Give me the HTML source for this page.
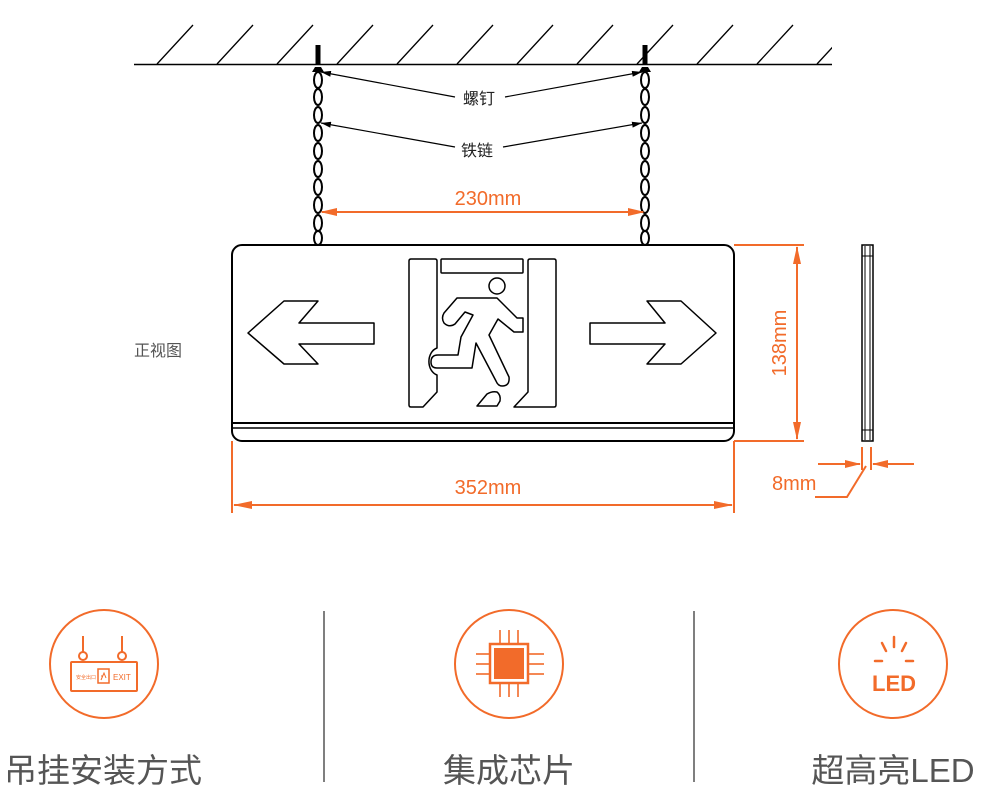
<!DOCTYPE html>
<html><head><meta charset="utf-8"><style>
html,body{margin:0;padding:0;background:#fff;width:982px;height:802px;overflow:hidden}
svg{display:block}
text{font-family:"Liberation Sans","Noto Sans CJK SC",sans-serif}
</style></head><body>
<svg width="982" height="802" viewBox="0 0 982 802" xmlns="http://www.w3.org/2000/svg">
<defs>
<marker id="ak" markerWidth="10" markerHeight="6" refX="10" refY="3" orient="auto" markerUnits="userSpaceOnUse"><path d="M0,0 L10,3 L0,6 Z" fill="#000"/></marker>
<clipPath id="cc"><rect x="134" y="0" width="698" height="70"/></clipPath>
</defs>
<line x1="134" y1="64.5" x2="832" y2="64.5" stroke="#000" stroke-width="1.5"/>
<g clip-path="url(#cc)" stroke="#000" stroke-width="1.3">
<line x1="157" y1="64" x2="193" y2="25"/><line x1="217" y1="64" x2="253" y2="25"/><line x1="277" y1="64" x2="313" y2="25"/><line x1="337" y1="64" x2="373" y2="25"/><line x1="397" y1="64" x2="433" y2="25"/><line x1="457" y1="64" x2="493" y2="25"/><line x1="517" y1="64" x2="553" y2="25"/><line x1="577" y1="64" x2="613" y2="25"/><line x1="637" y1="64" x2="673" y2="25"/><line x1="697" y1="64" x2="733" y2="25"/><line x1="757" y1="64" x2="793" y2="25"/><line x1="817" y1="64" x2="853" y2="25"/>
</g>
<rect x="315.5" y="45" width="5" height="20" fill="#000"/>
<rect x="642.5" y="45" width="5" height="20" fill="#000"/>
<path d="M312,72 L324,72 L321,67 L315,67 Z" fill="#000"/>
<path d="M639,72 L651,72 L648,67 L642,67 Z" fill="#000"/>
<g fill="none" stroke="#000" stroke-width="2">
<ellipse cx="318" cy="80" rx="4" ry="8"/><ellipse cx="318" cy="97" rx="4" ry="8"/><ellipse cx="318" cy="115" rx="4" ry="8"/><ellipse cx="318" cy="133" rx="4" ry="8"/><ellipse cx="318" cy="151" rx="4" ry="8"/><ellipse cx="318" cy="169" rx="4" ry="8"/><ellipse cx="318" cy="187" rx="4" ry="8"/><ellipse cx="318" cy="205" rx="4" ry="8"/><ellipse cx="318" cy="223" rx="4" ry="8"/><ellipse cx="318" cy="238" rx="4" ry="7"/>
<ellipse cx="645" cy="80" rx="4" ry="8"/><ellipse cx="645" cy="97" rx="4" ry="8"/><ellipse cx="645" cy="115" rx="4" ry="8"/><ellipse cx="645" cy="133" rx="4" ry="8"/><ellipse cx="645" cy="151" rx="4" ry="8"/><ellipse cx="645" cy="169" rx="4" ry="8"/><ellipse cx="645" cy="187" rx="4" ry="8"/><ellipse cx="645" cy="205" rx="4" ry="8"/><ellipse cx="645" cy="223" rx="4" ry="8"/><ellipse cx="645" cy="238" rx="4" ry="7"/>
</g>
<g stroke="#000" stroke-width="1.2">
<line x1="455" y1="97" x2="321" y2="72" marker-end="url(#ak)"/>
<line x1="505" y1="97" x2="642" y2="72" marker-end="url(#ak)"/>
<line x1="455" y1="147" x2="321" y2="123" marker-end="url(#ak)"/>
<line x1="503" y1="147" x2="642" y2="123" marker-end="url(#ak)"/>
</g>
<text x="479" y="104" font-size="16" text-anchor="middle" fill="#222">螺钉</text>
<text x="477" y="156" font-size="16" text-anchor="middle" fill="#222">铁链</text>
<line x1="322" y1="212" x2="643" y2="212" stroke="#f26b2a" stroke-width="2"/>
<path d="M320,212 L337,208 L337,216 Z M645,212 L628,208 L628,216 Z" fill="#f26b2a"/>
<text x="488" y="205" font-size="20" text-anchor="middle" fill="#f26b2a">230mm</text>
<rect x="232" y="245" width="502" height="196" rx="10" fill="#fff" stroke="#000" stroke-width="2"/>
<line x1="232" y1="423" x2="734" y2="423" stroke="#000" stroke-width="2"/>
<line x1="232" y1="428" x2="734" y2="428" stroke="#000" stroke-width="1.5"/>
<g fill="none" stroke="#000" stroke-width="1.5" stroke-linejoin="round">
<path d="M248,333 L284,301 L318,301 L299,323 L374,323 L374,344 L299,344 L318,364 L284,364 Z"/>
<path d="M716,333 L681,301 L647,301 L665,323 L590,323 L590,344 L665,344 L647,364 L681,364 Z"/>
<path d="M411,259 L435,259 Q437,259 437,261 L437,348 A11,14 0 0 0 437,375 L437,392 L423,407 L411,407 Q409,407 409,405 L409,261 Q409,259 411,259 Z"/>
<rect x="441" y="259" width="82" height="14" rx="1"/>
<path d="M530,259 L554,259 Q556,259 556,261 L556,405 Q556,407 554,407 L514,407 L528,392 L528,261 Q528,259 530,259 Z"/>
<circle cx="497" cy="286" r="8"/>
<path d="M457,298 L497,298 L517,318 L523,318 L523,332 L514,332 L498,319 L489,335 L509,377 Q510,386 502,386 Q498,386 496,381 L476,343 L472,368 L437,368 Q431,368 431,362 Q431,355 438,355 L458,355 L461,337 L473,315 L465,312 L455,324 Q449,328 444,323 Q441,318 444,313 Z"/>
<path d="M477,406 L487,394 Q492,391 497,392 Q501,395 500,401 L497,406 Z"/>
</g>
<g stroke="#f26b2a" stroke-width="2">
<line x1="232" y1="441" x2="232" y2="513"/><line x1="734" y1="441" x2="734" y2="513"/>
<line x1="234" y1="505" x2="732" y2="505"/>
<line x1="734" y1="245" x2="804" y2="245"/><line x1="734" y1="441" x2="804" y2="441"/>
<line x1="797" y1="247" x2="797" y2="439"/>
</g>
<path d="M233,505 L252,501 L252,509 Z M733,505 L714,501 L714,509 Z M797,246 L793,264 L801,264 Z M797,440 L793,422 L801,422 Z" fill="#f26b2a"/>
<text x="488" y="494" font-size="20" text-anchor="middle" fill="#f26b2a">352mm</text>
<text transform="translate(786,343) rotate(-90)" font-size="20" text-anchor="middle" fill="#f26b2a">138mm</text>
<rect x="862" y="245" width="11" height="196" fill="#fff" stroke="#000" stroke-width="1.5"/>
<line x1="865" y1="246" x2="865" y2="440" stroke="#000" stroke-width="1"/>
<line x1="870" y1="246" x2="870" y2="440" stroke="#000" stroke-width="1"/>
<line x1="862" y1="256" x2="873" y2="256" stroke="#000" stroke-width="1"/>
<line x1="862" y1="430" x2="873" y2="430" stroke="#000" stroke-width="1"/>
<g stroke="#f26b2a" stroke-width="2" fill="none">
<line x1="862" y1="447" x2="862" y2="470"/><line x1="871" y1="447" x2="871" y2="470"/>
<line x1="818" y1="464" x2="860" y2="464"/><line x1="914" y1="464" x2="873" y2="464"/>
<polyline points="866,466 847,497 815,497"/>
</g>
<path d="M861,464 L845,460 L845,468 Z M872,464 L888,460 L888,468 Z" fill="#f26b2a"/>
<text x="772" y="490" font-size="20" fill="#f26b2a">8mm</text>
<text x="134" y="356" font-size="16" fill="#555">正视图</text>
<line x1="324" y1="611" x2="324" y2="782" stroke="#555" stroke-width="1.5"/>
<line x1="694" y1="611" x2="694" y2="782" stroke="#555" stroke-width="1.5"/>
<g fill="none" stroke="#f26b2a" stroke-width="2">
<circle cx="104" cy="664" r="54"/><circle cx="509" cy="664" r="54"/><circle cx="893" cy="664" r="54"/>
</g>
<g stroke="#f26b2a" fill="none" stroke-width="2">
<line x1="83" y1="636" x2="83" y2="652"/><line x1="122" y1="636" x2="122" y2="652"/>
<circle cx="83" cy="656" r="4"/><circle cx="122" cy="656" r="4"/>
<rect x="71" y="662" width="66" height="29" rx="1"/>
<rect x="98" y="669" width="11" height="14" stroke-width="1.5"/>
</g>
<text x="76" y="679" font-size="5" fill="#f26b2a">安全出口</text>
<text x="113" y="680" font-size="8" fill="#f26b2a" font-family="Liberation Sans">EXIT</text>
<path d="M101,680 L104,673 L106,678 M103,676 L101,676" stroke="#f26b2a" stroke-width="1" fill="none"/>
<g stroke="#f26b2a" stroke-width="1.6">
<line x1="500" y1="630" x2="500" y2="644"/><line x1="509" y1="630" x2="509" y2="644"/><line x1="518" y1="630" x2="518" y2="644"/>
<line x1="500" y1="683" x2="500" y2="697"/><line x1="509" y1="683" x2="509" y2="697"/><line x1="518" y1="683" x2="518" y2="697"/>
<line x1="476" y1="654" x2="490" y2="654"/><line x1="476" y1="664" x2="490" y2="664"/><line x1="476" y1="674" x2="490" y2="674"/>
<line x1="528" y1="654" x2="544" y2="654"/><line x1="528" y1="664" x2="544" y2="664"/><line x1="528" y1="674" x2="544" y2="674"/>
</g>
<rect x="490" y="644" width="38" height="39" fill="none" stroke="#f26b2a" stroke-width="2.5"/>
<rect x="494" y="648" width="30" height="31" fill="#f26b2a"/>
<g stroke="#f26b2a" stroke-width="2.5" stroke-linecap="round">
<line x1="894" y1="637" x2="894" y2="647"/><line x1="882" y1="643" x2="886" y2="651"/><line x1="906" y1="643" x2="902" y2="651"/>
<line x1="875" y1="661" x2="882" y2="661"/><line x1="906" y1="661" x2="913" y2="661"/>
</g>
<text x="894" y="691" font-size="22" font-weight="bold" text-anchor="middle" fill="#f26b2a">LED</text>
<text x="103" y="782" font-size="33" text-anchor="middle" fill="#555">吊挂安装方式</text>
<text x="509" y="782" font-size="33" text-anchor="middle" fill="#555">集成芯片</text>
<text x="893" y="782" font-size="33" text-anchor="middle" fill="#555">超高亮LED</text>
</svg>
</body></html>
